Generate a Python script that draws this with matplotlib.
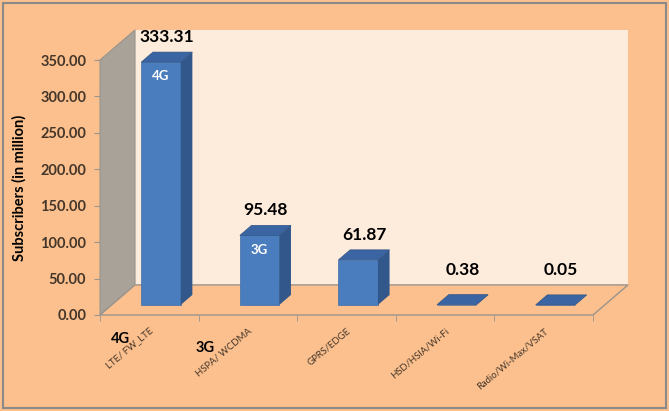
import matplotlib.pyplot as plt
from matplotlib.patches import Polygon, Rectangle

plt.rcParams['font.family'] = ['Lato', 'DejaVu Sans']

# data
categories = ['LTE/ FW_LTE', 'HSPA/ WCDMA', 'GPRS/EDGE', 'HSD/HSIA/Wi-Fi', 'Radio/Wi-Max/VSAT']
subscribers = [333.31, 95.48, 61.87, 0.38, 0.05]
tech_tags = ['4G', '3G', '', '', '']

BG = '#FBC08D'
WALL = '#FDEBDB'
SIDE = '#A9A298'
EDGE = '#9a948c'
FRONT = '#4A7DBE'
TOP = '#3B65A2'
RSIDE = '#32578A'
TXT = '#45362a'

# 3d depth of the floor (category units, value units)
DX, DY = 0.355, 41.3
bx, by = DX / 3, DY / 3          # bar starts a third of the way back
bw = 0.40

fig = plt.figure(figsize=(6.69, 4.11), dpi=100, facecolor=BG)
ax = fig.add_axes([0.1495, 0.2336, 0.7369, 0.6204])
ax.set_facecolor('none')
ax.set_xlim(-0.5, 4.5)
ax.set_ylim(0, 350)

n = len(categories)
x0, x1 = -0.5, n - 0.5
ytop = 350

# back wall, left side wall, floor
ax.add_patch(Polygon([(x0 + DX, DY), (x1 + DX, DY), (x1 + DX, ytop + DY), (x0 + DX, ytop + DY)],
                     closed=True, fc=WALL, ec='none', clip_on=False, zorder=0))
ax.add_patch(Polygon([(x0, 0), (x0 + DX, DY), (x0 + DX, ytop + DY), (x0, ytop)],
                     closed=True, fc=SIDE, ec=EDGE, lw=0.8, clip_on=False, zorder=1))
ax.add_patch(Polygon([(x0, 0), (x1, 0), (x1 + DX, DY), (x0 + DX, DY)],
                     closed=True, fc=BG, ec=EDGE, lw=1.0, clip_on=False, zorder=1))

# bars with side and top faces
xs = [i + bx for i in range(n)]
ax.bar(xs, subscribers, width=bw, bottom=by, color=FRONT, edgecolor='#3f6ea8', lw=0.5, zorder=3)
for xc, v in zip(xs, subscribers):
    l, r = xc - bw / 2, xc + bw / 2
    t = by + v
    ax.add_patch(Polygon([(r, by), (r + bx, by + by), (r + bx, t + by), (r, t)],
                         closed=True, fc=RSIDE, ec='none', clip_on=False, zorder=3))
    ax.add_patch(Polygon([(l, t), (r, t), (r + bx, t + by), (l + bx, t + by)],
                         closed=True, fc=TOP, ec='#2f5488', lw=0.5, clip_on=False, zorder=4))

# value labels
for xc, v in zip(xs, subscribers):
    yl = max(by + v + by, DY)
    ax.annotate(f'{v:.2f}', (xc + bx / 2, yl), xytext=(0, 5), textcoords='offset points',
                ha='center', va='bottom', fontsize=12.5, fontweight='bold', color='black',
                annotation_clip=False, zorder=5)

# tech tags inside bars and under the axis
for xc, v, tag in zip(xs, subscribers, tech_tags):
    if not tag:
        continue
    ax.annotate(tag, (xc, by + v), xytext=(0, -6), textcoords='offset points',
                ha='center', va='top', fontsize=9.5, fontweight='bold', color='white', zorder=5)
for i, tag in enumerate(tech_tags):
    if not tag:
        continue
    ax.annotate(tag, (i, 0), xytext=(-21 - 10 * i, -17 - 7 * i), textcoords='offset points',
                ha='center', va='center', fontsize=10.5, fontweight='bold', color='black',
                annotation_clip=False)

# axes styling
for s in ['top', 'right', 'left', 'bottom']:
    ax.spines[s].set_visible(False)

yt = list(range(0, 351, 50))
ax.set_yticks(yt)
ax.set_yticklabels([f'{v:.2f}' for v in yt], fontsize=10.5, fontweight='bold', color=TXT)
ax.tick_params(axis='y', length=4, color=EDGE, pad=6)

ax.set_xticks(range(n))
ax.set_xticklabels(categories, rotation=40, ha='right', va='top', rotation_mode='anchor',
                   fontsize=6.8, color=TXT)
ax.tick_params(axis='x', length=0, pad=8)
ax.set_xticks([i - 0.5 for i in range(n + 1)], minor=True)
ax.tick_params(axis='x', which='minor', length=4, color=EDGE)

ax.set_ylabel('Subscribers (in million)', fontsize=10.5, fontweight='bold', color='black', labelpad=10)

# outer border
fig.add_artist(Rectangle((0.005, 0.008), 0.99, 0.985, transform=fig.transFigure,
                         fill=False, ec='#8a8a8a', lw=1.5))

fig.savefig('out.png', dpi=100, facecolor=BG)
